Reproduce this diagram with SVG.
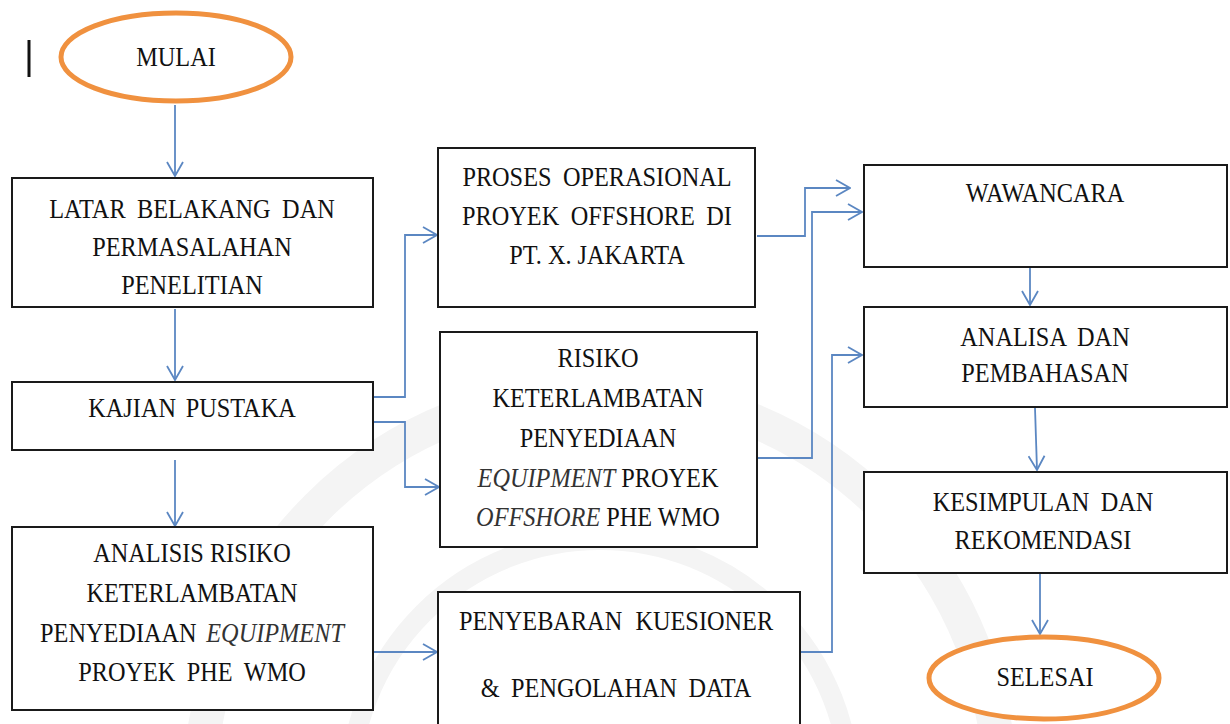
<svg xmlns="http://www.w3.org/2000/svg" width="1230" height="724" viewBox="0 0 1230 724">
<defs>
<style>
.box{fill:#fff;stroke:#1a1a1a;stroke-width:2}
.oval{fill:#fff;stroke:#F0913F;stroke-width:5}
.t{font-family:"Liberation Serif","Times New Roman",serif;font-size:27px;fill:#111;text-anchor:middle}
.i{font-style:italic;fill:#333}
.c{fill:none;stroke:#5B87C2;stroke-width:1.8}
.wm{fill:none;stroke:#f4f4f4}
</style>
<marker id="ah" viewBox="0 0 16 18" refX="15" refY="9" markerWidth="16" markerHeight="18" markerUnits="userSpaceOnUse" orient="auto">
<path d="M1,1 L15,9 L1,17" fill="none" stroke="#5B87C2" stroke-width="1.8"/>
</marker>
</defs>
<rect width="1230" height="724" fill="#fff"/>
<g id="watermark">
<circle class="wm" cx="600" cy="790" r="400" stroke-width="34"/>
<circle class="wm" cx="600" cy="790" r="250" stroke-width="20"/>
</g>
<line x1="29" y1="40" x2="29" y2="77" stroke="#111" stroke-width="3"/>
<g id="connectors">
<path class="c" marker-end="url(#ah)" d="M175,105 V176"/>
<path class="c" marker-end="url(#ah)" d="M175,309 V380"/>
<path class="c" marker-end="url(#ah)" d="M175,460 V526"/>
<path class="c" marker-end="url(#ah)" d="M373,397 H405 V235 H437"/>
<path class="c" marker-end="url(#ah)" d="M373,422 H405 V487 H439"/>
<path class="c" marker-end="url(#ah)" d="M373,652 H437"/>
<path class="c" marker-end="url(#ah)" d="M757,236 H805 V188 H850"/>
<path class="c" marker-end="url(#ah)" d="M758,458 H812 V212 H862"/>
<path class="c" marker-end="url(#ah)" d="M800,652 H832 V355 H862"/>
<path class="c" marker-end="url(#ah)" d="M1030,267 V305"/>
<path class="c" marker-end="url(#ah)" d="M1035,408 L1037,470"/>
<path class="c" marker-end="url(#ah)" d="M1040,574 V634"/>
</g>
<g id="mulai">
<ellipse class="oval" cx="176" cy="57" rx="115" ry="44"/>
<g transform="translate(176,0) scale(0.9,1)"><text class="t" x="0" y="66">MULAI</text></g>
</g>
<g id="latar">
<rect class="box" x="12" y="178" width="361" height="129"/>
<g transform="translate(192,0) scale(0.9,1)">
<text class="t" x="0" y="218" word-spacing="6">LATAR BELAKANG DAN</text>
<text class="t" x="0" y="256">PERMASALAHAN</text>
<text class="t" x="0" y="294">PENELITIAN</text>
</g>
</g>
<g id="kajian">
<rect class="box" x="12" y="382" width="361" height="68"/>
<g transform="translate(192,0) scale(0.9,1)"><text class="t" x="0" y="417" word-spacing="4">KAJIAN PUSTAKA</text></g>
</g>
<g id="analisis">
<rect class="box" x="12" y="527" width="361" height="183"/>
<g transform="translate(192,0) scale(0.9,1)">
<text class="t" x="0" y="562">ANALISIS RISIKO</text>
<text class="t" x="0" y="602">KETERLAMBATAN</text>
<text class="t" x="0" y="642" word-spacing="4">PENYEDIAAN <tspan class="i">EQUIPMENT</tspan></text>
<text class="t" x="0" y="681" word-spacing="6">PROYEK PHE WMO</text>
</g>
</g>
<g id="proses">
<rect class="box" x="438" y="148" width="317" height="159"/>
<g transform="translate(597,0) scale(0.9,1)">
<text class="t" x="0" y="186" word-spacing="6">PROSES OPERASIONAL</text>
<text class="t" x="0" y="225" word-spacing="6">PROYEK OFFSHORE DI</text>
<text class="t" x="0" y="264">PT. X. JAKARTA</text>
</g>
</g>
<g id="risiko">
<rect class="box" x="440" y="332" width="317" height="215"/>
<g transform="translate(598,0) scale(0.9,1)">
<text class="t" x="0" y="367">RISIKO</text>
<text class="t" x="0" y="407">KETERLAMBATAN</text>
<text class="t" x="0" y="447">PENYEDIAAN</text>
<text class="t" x="0" y="487"><tspan class="i">EQUIPMENT</tspan> PROYEK</text>
<text class="t" x="0" y="526"><tspan class="i">OFFSHORE</tspan> PHE WMO</text>
</g>
</g>
<g id="penyebaran">
<rect class="box" x="438" y="592" width="362" height="140"/>
<g transform="translate(616,0) scale(0.9,1)">
<text class="t" x="0" y="630" word-spacing="8">PENYEBARAN KUESIONER</text>
<text class="t" x="0" y="697" word-spacing="6">&amp; PENGOLAHAN DATA</text>
</g>
</g>
<g id="wawancara">
<rect class="box" x="864" y="165" width="363" height="102"/>
<g transform="translate(1045,0) scale(0.9,1)"><text class="t" x="0" y="202">WAWANCARA</text></g>
</g>
<g id="analisa">
<rect class="box" x="864" y="307" width="363" height="100"/>
<g transform="translate(1045,0) scale(0.9,1)">
<text class="t" x="0" y="346" word-spacing="6">ANALISA DAN</text>
<text class="t" x="0" y="382">PEMBAHASAN</text>
</g>
</g>
<g id="kesimpulan">
<rect class="box" x="864" y="472" width="363" height="101"/>
<g transform="translate(1043,0) scale(0.9,1)">
<text class="t" x="0" y="511" word-spacing="6">KESIMPULAN DAN</text>
<text class="t" x="0" y="549">REKOMENDASI</text>
</g>
</g>
<g id="selesai">
<ellipse class="oval" cx="1044" cy="678" rx="115" ry="41"/>
<g transform="translate(1045,0) scale(0.9,1)"><text class="t" x="0" y="686">SELESAI</text></g>
</g>
</svg>
